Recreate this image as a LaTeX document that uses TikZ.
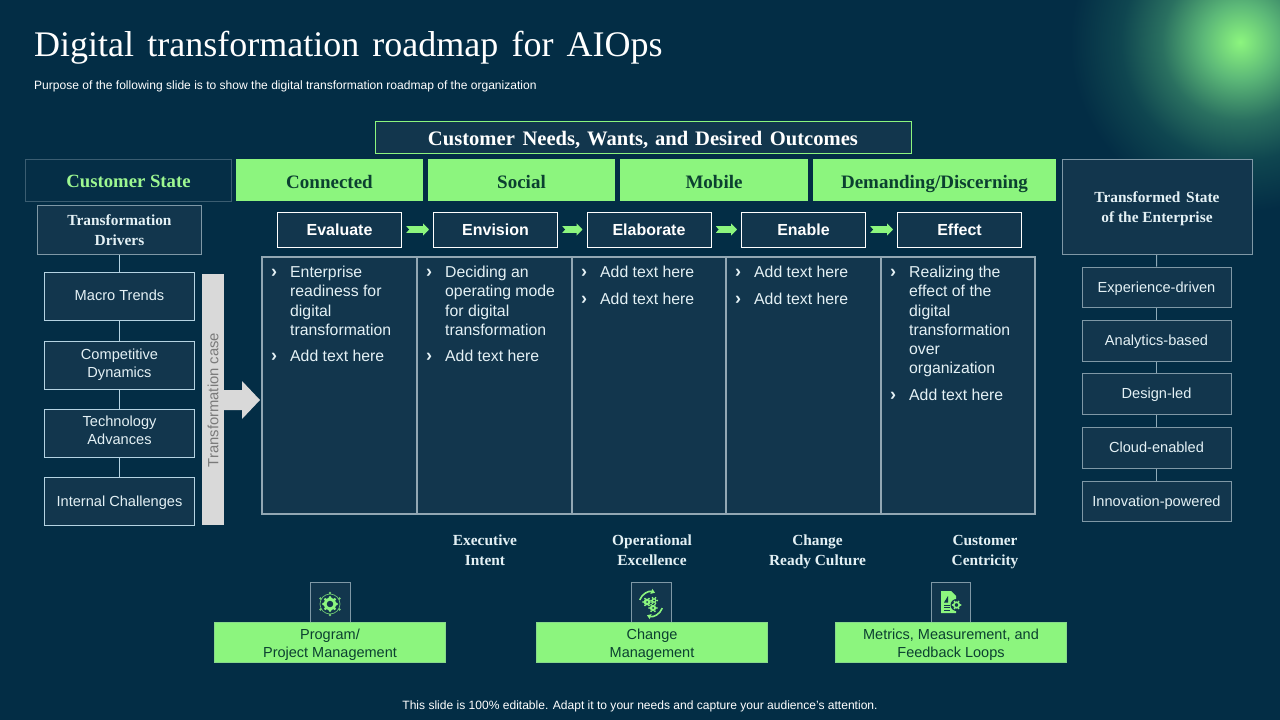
\documentclass[tikz,border=0pt]{standalone}
\usepackage{fontspec}
\setmainfont{Liberation Serif}
\setsansfont{Liberation Sans}
\usetikzlibrary{arrows.meta,calc}
\definecolor{bgc}{HTML}{032D45}
\definecolor{boxc}{HTML}{12364D}
\definecolor{grn}{HTML}{8CF57E}
\definecolor{dgrn}{HTML}{0B4030}
\definecolor{edge}{HTML}{7F98A6}
\definecolor{edgel}{HTML}{B5D3E2}
\definecolor{txt}{HTML}{E4F1F5}
\definecolor{glow1}{HTML}{8CF57E}
\definecolor{glow2}{HTML}{5CB878}
\definecolor{glow3}{HTML}{2A7060}
\definecolor{glow4}{HTML}{0F4650}
\pgfdeclareradialshading{glowshade}{\pgfpointorigin}{color(0bp)=(glow1); color(5.5bp)=(glow2); color(11.5bp)=(glow3); color(17.5bp)=(glow4); color(25bp)=(bgc); color(50bp)=(bgc)}
\tikzset{
  x=1pt,y=-1pt,
  sbox/.style 2 args={draw=edge,fill=boxc,line width=1pt,minimum width=#1,minimum height=#2,inner sep=0pt,align=center,text=txt,font=\sffamily\fontsize{14.6}{18}\selectfont},
  lbox/.style 2 args={sbox={#1}{#2},draw=edgel},
  base/.style={text height=#1,text depth=0pt},
  ebox/.style={draw=white,fill=boxc,line width=1pt,minimum width=124,minimum height=35,inner sep=0pt,text=white,font=\sffamily\bfseries\fontsize{16}{19}\selectfont},
  gbar/.style={fill=grn,minimum width=#1,minimum height=42,inner sep=0pt,text=dgrn,text height=16.6pt,text depth=0pt,font=\bfseries\fontsize{19}{22}\selectfont},
  gfoot/.style={fill=grn,draw=grn!70!edge,line width=.5pt,minimum width=231,minimum height=40,inner sep=0pt,align=center,text=dgrn,font=\sffamily\fontsize{14.5}{18}\selectfont},
  stitle/.style={text=txt,align=center,inner sep=0pt,font=\bfseries\fontsize{15.4}{20}\selectfont},
  cellt/.style={anchor=north west,inner sep=0pt,align=left,text=txt,font=\sffamily\fontsize{15.8}{19.2}\selectfont},
  cellb/.style={anchor=north west,inner sep=0pt,text=txt,font=\sffamily\bfseries\fontsize{18}{19.2}\selectfont},
  iconbox/.style={draw=edge,fill=boxc,line width=.8pt,minimum width=39.5,minimum height=40,inner sep=0pt},
  link/.style={draw=edgel,line width=1pt},
  nextarrow/.style={draw=grn,line width=7pt,-{Triangle[length=6pt,width=12pt]},shorten >=4pt,shorten <=4pt},
}
\begin{document}
\begin{tikzpicture}
\useasboundingbox (0,0) rectangle (1280,720);
\fill[bgc] (0,0) rectangle (1280,720);
\begin{scope}
\clip (0,0) rectangle (1280,720);
\shade[shading=glowshade] (1240,42) circle (170);
\end{scope}

% title
\node[anchor=west,inner sep=0pt,text=white,font=\fontsize{36}{40}\selectfont] (title) at (34,47.5) {Digital\hspace{.115em} transformation\hspace{.115em} roadmap\hspace{.115em} for\hspace{.115em} AIOps};
\node[anchor=west,inner sep=0pt,text=white,font=\sffamily\fontsize{12.05}{14}\selectfont] (sub) at (34,86.5) {Purpose of the following slide is to show the digital transformation roadmap of the organization};
\node[inner sep=0pt,text=white,font=\sffamily\fontsize{12.05}{14}\selectfont] (foot) at (640,706.5) {This slide is 100\% editable. Adapt it to your needs and capture your audience's attention.};

% top header
\node[draw=grn,fill=boxc,line width=.8pt,minimum width=536,minimum height=32,inner sep=0pt,text=white,text height=15.5pt,text depth=0pt,font=\bfseries\fontsize{20.6}{22}\selectfont] (needs) at (643,137.5) {Customer\hspace{.12em} Needs,\hspace{.08em} Wants,\hspace{.08em} and\hspace{.08em} Desired\hspace{.12em} Outcomes};
\node[draw=edge!45!bgc,fill=bgc!85!boxc,line width=1pt,minimum width=206,minimum height=42,inner sep=0pt,text=grn!85!white,text height=14.5pt,text depth=0pt,font=\bfseries\fontsize{18.7}{20}\selectfont] (cstate) at (128.5,180.5) {Customer State};
\node[gbar=187] (g1) at (329.5,180) {Connected};
\node[gbar=187] (g2) at (521.5,180) {Social};
\node[gbar=188] (g3) at (714,180) {Mobile};
\node[gbar=243] (g4) at (934.5,180) {Demanding/Discerning};

% left column
\node[sbox={164}{49},stitle] (drivers) at (119.5,230) {Transformation\\Drivers};
\node[lbox={150}{48},base=8.4pt] (l1) at (119.5,296.5) {Macro Trends};
\node[lbox={150}{48}] (l2) at (119.5,365) {Competitive\\Dynamics};
\node[lbox={150}{48}] (l3) at (119.5,433) {Technology\\Advances\rule[-5pt]{0pt}{0pt}};
\node[lbox={150}{48},base=11.5pt] (l4) at (119.5,501) {Internal Challenges};
\draw[link] (drivers) -- (l1);
\draw[link] (l1) -- (l2);
\draw[link] (l2) -- (l3);
\draw[link] (l3) -- (l4);

% transformation case
\node[fill=black!15,minimum width=22,minimum height=251,inner sep=0pt] (case) at (213,399.5) {};
\node[rotate=90,text=black!52,inner sep=0pt,font=\sffamily\fontsize{14.8}{17}\selectfont] (caset) at (213,400) {Transformation case};
\fill[black!15] (224,390) -- (242,390) -- (242,381) -- (260,400) -- (242,419) -- (242,410) -- (224,410) -- cycle;

% E boxes
\node[ebox] (e1) at (339.5,229.5) {Evaluate};
\node[ebox] (e2) at (495.5,229.5) {Envision};
\node[ebox] (e3) at (649,229.5) {Elaborate};
\node[ebox] (e4) at (803.5,229.5) {Enable};
\node[ebox] (e5) at (959.5,229.5) {Effect};
\foreach \p/\q in {e1/e2,e2/e3,e3/e4,e4/e5} {
  \draw[nextarrow] (\p) -- (\q);
  \fill[bgc] ($(\p.east)+(3.5,-4)$) -- ($(\p.east)+(7,0)$) -- ($(\p.east)+(3.5,4)$) -- cycle;
}

% table
\begin{scope}[draw=edge!85!white,line width=1.1pt]
\draw[fill=boxc] (262,257) rectangle (1035,514);
\draw (417,257) -- (417,514);
\draw (572,257) -- (572,514);
\draw (726,257) -- (726,514);
\draw (881,257) -- (881,514);
\end{scope}
\node[cellb] (b1a) at (271,269) {›};
\node[cellt] (t1a) at (290,266) {Enterprise\\readiness for\\digital\\transformation};
\node[cellb] (b1b) at (271,353) {›};
\node[cellt] (t1b) at (290,350) {Add text here};
\node[cellb] (b2a) at (426,269) {›};
\node[cellt] (t2a) at (445,266) {Deciding an\\operating mode\\for digital\\transformation};
\node[cellb] (b2b) at (426,353) {›};
\node[cellt] (t2b) at (445,350) {Add text here};
\node[cellb] (b3a) at (581,269) {›};
\node[cellt] (t3a) at (600,266) {Add text here};
\node[cellb] (b3b) at (581,296) {›};
\node[cellt] (t3b) at (600,293) {Add text here};
\node[cellb] (b4a) at (735,269) {›};
\node[cellt] (t4a) at (754,266) {Add text here};
\node[cellb] (b4b) at (735,296) {›};
\node[cellt] (t4b) at (754,293) {Add text here};
\node[cellb] (b5a) at (890,269) {›};
\node[cellt] (t5a) at (909,266) {Realizing the\\effect of the\\digital\\transformation\\over\\organization};
\node[cellb] (b5b) at (890,392) {›};
\node[cellt] (t5b) at (909,389) {Add text here};

% right column
\node[sbox={190}{95},stitle] (tstate) at (1157,207) {\rule{0pt}{15pt}Transformed\hspace{.12em} State\\of the Enterprise};
\node[sbox={149}{40},base=11.5pt] (r1) at (1156.5,287) {Experience-driven};
\node[sbox={149}{41},base=9.5pt] (r2) at (1156.5,340.5) {Analytics-based};
\node[sbox={149}{41},base=9.5pt] (r3) at (1156.5,394) {Design-led};
\node[sbox={149}{41},base=10.4pt] (r4) at (1156.5,447.5) {Cloud-enabled};
\node[sbox={149}{40},base=11.5pt] (r5) at (1156.5,501) {Innovation-powered};
\draw[link,draw=edge!70!edgel] (tstate) -- (r1);
\draw[link,draw=edge!70!edgel] (r1) -- (r2);
\draw[link,draw=edge!70!edgel] (r2) -- (r3);
\draw[link,draw=edge!70!edgel] (r3) -- (r4);
\draw[link,draw=edge!70!edgel] (r4) -- (r5);

% mid labels
\node[stitle] (m1) at (485,550) {Executive\\Intent};
\node[stitle] (m2) at (652,550) {Operational\\Excellence};
\node[stitle] (m3) at (817.5,552) {Change\\Ready Culture};
\node[stitle] (m4) at (985,552) {Customer\\Centricity};

% icon boxes
\node[iconbox] (i1) at (330.5,602.5) {};
\node[iconbox] (i2) at (651.5,602.5) {};
\node[iconbox] (i3) at (951,602.5) {};

% footer boxes
\node[gfoot] (f1) at (330,642.5) {\rule{0pt}{14.5pt}Program/\\Project Management};
\node[gfoot] (f2) at (652,642.5) {\rule{0pt}{14.5pt}Change\\Management};
\node[gfoot] (f3) at (951,642.5) {\rule{0pt}{14.5pt}Metrics, Measurement, and\\Feedback Loops};

% icon 1: gear in ring of dots
\begin{scope}[shift={(330,604)}]
\draw[grn,line width=3pt] (0,0) circle (5);
\foreach \a in {0,45,...,315} \fill[grn] (\a:6.6) circle (1.5);
\draw[grn!75!boxc,line width=.7pt] (0,0) circle (10);
\foreach \a in {30,90,150,210,270,330} {\fill[grn!80!boxc] (\a:11) circle (1.4);}
\fill[boxc] (0,0) circle (2.6);
\end{scope}
% icon 2: gears in circular arrows
\begin{scope}[shift={(651,604)}]
\foreach \px/\py/\r in {-4/-2/3.4,3/-3.5/2.4,2/4/3.2} {
  \begin{scope}[shift={(\px,\py)}]
  \fill[grn] (0,0) circle (\r);
  \foreach \a in {0,60,...,300} \fill[grn] ({\a}:{\r+.6}) circle (1);
  \fill[boxc] (0,0) circle (1);
  \end{scope}
}
\draw[grn,line width=1.6pt,-{Triangle[length=4pt,width=5pt]}] (200:12) arc[start angle=200,end angle=290,radius=12];
\draw[grn,line width=1.6pt,-{Triangle[length=4pt,width=5pt]}] (20:12) arc[start angle=20,end angle=110,radius=12];
\end{scope}
% icon 3: document with gear
\begin{scope}[shift={(949,602)}]
\fill[grn] (-8,-11) -- (2,-11) -- (7,-6) -- (7,11) -- (-8,11) -- cycle;
\draw[boxc,line width=1pt] (-5,3) -- (1,3) (-5,5.5) -- (1,5.5) (-5,8) -- (1,8);
\fill[boxc] (-5,0.5) -- (-1,-6) -- (-1,0.5) -- cycle;
\fill[boxc] (7.5,3) circle (6);
\draw[grn,line width=1.6pt] (7.5,3) circle (2.8);
\foreach \a in {0,60,...,300} \fill[grn] ($(7.5,3)+(\a:4)$) circle (1);
\end{scope}
\end{tikzpicture}
\end{document}
